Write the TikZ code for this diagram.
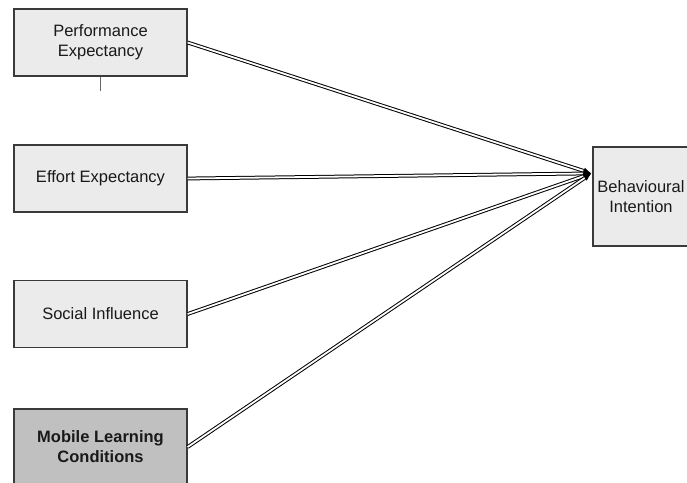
\documentclass[tikz,border=0pt]{standalone}
\usepackage{fontspec}
\setmainfont{Liberation Sans}
\usetikzlibrary{positioning,calc,arrows.meta}
\definecolor{boxfill}{HTML}{EBEBEB}
\definecolor{darkfill}{HTML}{C0C0C0}
\definecolor{boxline}{HTML}{3A3A3A}
\tikzset{
  construct/.style={draw=boxline,line width=1.2pt,fill=boxfill,
    minimum width=173pt,minimum height=67pt,align=center,
    text=black!90,font=\fontsize{16.5}{20}\selectfont},
  path/.style={double=white,draw=black,line width=1pt,double distance=1.8pt,
    -{Latex[length=8pt,width=7pt]}}
}

\begin{document}
\begin{tikzpicture}[x=1pt,y=-1pt]
\useasboundingbox (0,0) rectangle (687,482);
% Predictors on the left
\node[construct] (pe) at (100.5,42.5) {Performance\\Expectancy};
\node[construct] (ee) at (100.5,178.5) {Effort Expectancy};
\node[construct] (si) at (100.5,314) {Social Influence};
\node[construct,fill=darkfill,minimum height=76pt,font=\fontsize{16.5}{20}\selectfont\bfseries]
  (mlc) at (100.5,447) {Mobile Learning\\Conditions};
% Outcome on the right
\node[construct,minimum width=96pt,minimum height=99pt,inner sep=1pt] (bi) at (641,196.5) {Behavioural\\Intention};
% Small tick under the first box
\draw[gray!80!black,line width=0.8pt] (pe.south) -- +(0,14) coordinate (pe tick);
% Where the paths meet
\coordinate (bi in) at ($(bi.north west)+(-1,27)$);
% Paths
\draw[path] (pe.east) -- (bi in);
\draw[path] (ee.east) -- (bi in);
\draw[path] (si.east) -- (bi in);
\draw[path] (mlc.east) -- (bi in);
\end{tikzpicture}
\end{document}
